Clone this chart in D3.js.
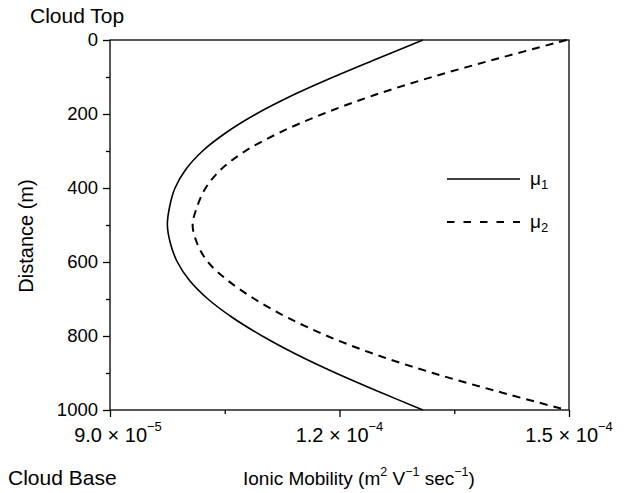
<!DOCTYPE html>
<html>
<head>
<meta charset="utf-8">
<script src="https://cdn.jsdelivr.net/npm/d3@7"></script>
<style>
  body { margin: 0; background: #fff; }
  text { font-family: "Liberation Sans", Arial, sans-serif; fill: #000; }
</style>
</head>
<body>
<div id="chart"></div>
<script>
// distance from cloud top (m)
const distance = [0, 50, 100, 150, 200, 250, 300, 350, 400, 450, 500,
                  550, 600, 650, 700, 750, 800, 850, 900, 950, 1000];
// ionic mobility (m2 V-1 s-1)
const mu1 = [13.09e-5, 12.50e-5, 11.92e-5, 11.38e-5, 10.91e-5, 10.52e-5, 10.21e-5, 9.99e-5, 9.85e-5, 9.78e-5, 9.75e-5,
             9.79e-5, 9.88e-5, 10.04e-5, 10.28e-5, 10.60e-5, 10.99e-5, 11.44e-5, 11.95e-5, 12.51e-5, 13.09e-5];
const mu2 = [14.97e-5, 14.07e-5, 13.21e-5, 12.44e-5, 11.78e-5, 11.22e-5, 10.77e-5, 10.45e-5, 10.25e-5, 10.14e-5, 10.08e-5,
             10.14e-5, 10.28e-5, 10.54e-5, 10.89e-5, 11.32e-5, 11.84e-5, 12.47e-5, 13.22e-5, 14.07e-5, 14.97e-5];

const yTicks = [0, 200, 400, 600, 800, 1000];
const yMinor = [100, 300, 500, 700, 900];
const xTicks = [9.0e-5, 1.2e-4, 1.5e-4];
const xMinor = [1.05e-4, 1.35e-4];
const xTickMantissa = ["9.0", "1.2", "1.5"];
const xTickExponent = ["\u22125", "\u22124", "\u22124"];

const width = 627, height = 493;
const margin = {top: 40, right: 58, bottom: 83, left: 110};

const svg = d3.select("#chart").append("svg")
    .attr("width", width)
    .attr("height", height);

const x = d3.scaleLinear().domain([9e-5, 1.5e-4]).range([margin.left, width - margin.right]);
const y = d3.scaleLinear().domain([0, 1000]).range([margin.top, height - margin.bottom]);

// frame
svg.append("rect")
    .attr("x", x(9e-5)).attr("y", y(0))
    .attr("width", x(1.5e-4) - x(9e-5))
    .attr("height", y(1000) - y(0))
    .attr("fill", "none")
    .attr("stroke", "#000")
    .attr("stroke-width", 1.3);

// y axis
const yAxis = svg.append("g")
    .attr("transform", `translate(${margin.left},0)`)
    .call(d3.axisLeft(y).tickValues(yTicks).tickSize(7).tickPadding(5).tickFormat(d3.format("d")));
yAxis.append("g")
    .call(d3.axisLeft(y).tickValues(yMinor).tickSize(4).tickFormat(""));
yAxis.selectAll(".domain").remove();
yAxis.selectAll("line").attr("stroke-width", 1.3);
yAxis.selectAll("text")
    .attr("font-size", 18.5)
    .attr("font-family", "Liberation Sans, Arial, sans-serif")
    .attr("fill", "#000");

// x axis
const xAxis = svg.append("g")
    .attr("transform", `translate(0,${height - margin.bottom})`)
    .call(d3.axisBottom(x).tickValues(xTicks).tickSize(7).tickFormat(""));
xAxis.append("g")
    .call(d3.axisBottom(x).tickValues(xMinor).tickSize(4).tickFormat(""));
xAxis.selectAll(".domain").remove();
xAxis.selectAll("line").attr("stroke-width", 1.3);

// first label sits a little right of its tick in the original
const xLab = svg.append("g")
    .selectAll("text")
    .data(xTicks)
    .join("text")
    .attr("x", (d, i) => x(d) + (i === 0 ? 8 : 0))
    .attr("y", height - margin.bottom + 32)
    .attr("text-anchor", "middle")
    .attr("font-size", 20);
xLab.append("tspan").text((d, i) => xTickMantissa[i] + " \u00d7 10");
xLab.append("tspan")
    .attr("dy", -11)
    .attr("font-size", 13)
    .text((d, i) => xTickExponent[i]);

// curves
const line = d3.line()
    .curve(d3.curveCatmullRom)
    .x(d => x(d[0]))
    .y(d => y(d[1]));

svg.append("path")
    .datum(d3.zip(mu1, distance))
    .attr("fill", "none")
    .attr("stroke", "#000")
    .attr("stroke-width", 1.6)
    .attr("d", line);

svg.append("path")
    .datum(d3.zip(mu2, distance))
    .attr("fill", "none")
    .attr("stroke", "#000")
    .attr("stroke-width", 2)
    .attr("stroke-dasharray", "8,6")
    .attr("d", line);

// legend
const legend = svg.append("g");
const legendItems = [{name: "\u03bc", sub: "1", dash: null}, {name: "\u03bc", sub: "2", dash: "7.5,9"}];
const lg = legend.selectAll("g")
    .data(legendItems)
    .join("g")
    .attr("transform", (d, i) => `translate(447,${179 + i * 43})`);
lg.append("line")
    .attr("x1", 0).attr("x2", 73)
    .attr("stroke", "#000")
    .attr("stroke-width", d => d.dash ? 2 : 1.6)
    .attr("stroke-dasharray", d => d.dash);
const lt = lg.append("text")
    .attr("x", 83)
    .attr("y", 6)
    .attr("font-size", 19);
lt.append("tspan").text(d => d.name);
lt.append("tspan").attr("dy", 4).attr("font-size", 13).text(d => d.sub);

// titles
svg.append("text")
    .attr("x", 30).attr("y", 23)
    .attr("font-size", 21)
    .text("Cloud Top");

svg.append("text")
    .attr("x", 8).attr("y", 485)
    .attr("font-size", 21)
    .text("Cloud Base");

svg.append("text")
    .attr("transform", "translate(33,236) rotate(-90)")
    .attr("text-anchor", "middle")
    .attr("font-size", 20)
    .text("Distance (m)");

const xt = svg.append("text")
    .attr("x", 243).attr("y", 485)
    .attr("font-size", 19);
xt.append("tspan").text("Ionic Mobility (m");
xt.append("tspan").attr("dy", -9).attr("font-size", 12.5).text("2");
xt.append("tspan").attr("dy", 9).text(" V");
xt.append("tspan").attr("dy", -9).attr("font-size", 12.5).text("\u22121");
xt.append("tspan").attr("dy", 9).text(" sec");
xt.append("tspan").attr("dy", -9).attr("font-size", 12.5).text("\u22121");
xt.append("tspan").attr("dy", 9).text(")");
</script>
</body>
</html>
